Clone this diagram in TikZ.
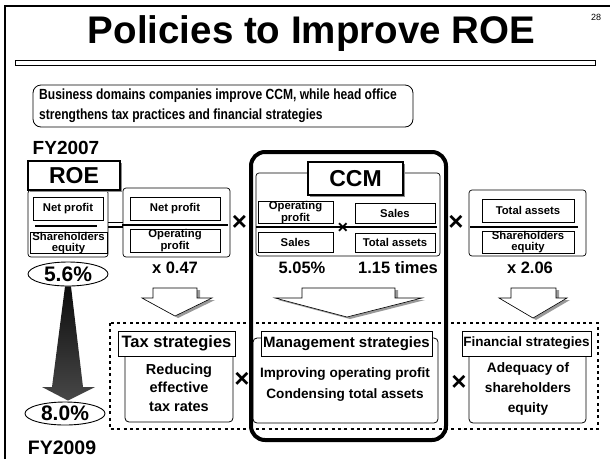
\documentclass[tikz,border=0pt]{standalone}
\usepackage{fontspec}
\setmainfont{Liberation Sans}
\newfontfamily\narrowsans[FakeStretch=0.82]{Liberation Sans}
\usetikzlibrary{positioning,calc,shapes.geometric,shadows}

\newcommand{\fsz}[2]{\fontsize{#1}{#2}\selectfont\bfseries}

\tikzset{
  panel/.style={draw, line width=0.7pt, rounded corners=3pt, fill=white, inner sep=0pt},
  term/.style={draw, line width=0.8pt, fill=white, inner sep=0pt, align=center, font=\fsz{11.3}{10.5}},
  headbox/.style={draw, line width=1.2pt, fill=white, inner sep=0pt,
    drop shadow={shadow xshift=2pt, shadow yshift=-2pt, fill=black!45, opacity=1}},
  strat/.style={draw, line width=0.8pt, fill=white, inner sep=0pt},
  fracline/.style={line width=1.8pt},
  times/.style={inner sep=0pt, font=\fsz{26}{26}},
  value/.style={inner sep=0pt, font=\fsz{16.5}{16.5}},
  pct/.style={draw, ellipse, line width=0.9pt, fill=white, inner sep=0pt, font=\fsz{21}{21}},
  hollow/.style={draw, line width=0.6pt, fill=white},
  hshadow/.style={fill=black!40},
}

\begin{document}
\begin{tikzpicture}[x=1pt, y=-1pt]
\useasboundingbox (0,0) rectangle (610,459);

% frame and title
\draw[line width=2pt] (5,459) -- (5,6) -- (610,6);
\node[inner sep=0pt, font=\fsz{9}{9}\mdseries] (page) at (596,17) {28};
\node[anchor=base, inner sep=0pt, font=\fsz{38.5}{38.5}] (title) at (311.5,43) {Policies to Improve ROE};
\draw[line width=0.8pt] (15,60) rectangle (595,65);

\draw[line width=0.8pt, rounded corners=8pt] (33,85) rectangle (413,127);
\node[anchor=west, align=left, inner sep=0pt, font=\narrowsans\fsz{14.7}{20}] (intro) at (39,106)
  {Business domains companies improve CCM, while head office\\strengthens tax practices and financial strategies};

% ROE
\node[inner sep=0pt, font=\fsz{19}{19}] (fy07) at (66,148) {FY2007};
\node[panel, minimum width=80, minimum height=67] (roebody) at (68,223.5) {};
\node[headbox, minimum width=92, minimum height=29, font=\fsz{23}{23}] (roe) at (74,175.5) {ROE};
\node[term, minimum width=70, minimum height=23] (np1) at (68,208.5) {Net profit};
\node[term, minimum width=77, minimum height=21] (se1) at (68.5,243) {Shareholders\\equity};
\draw[fracline] (35,226) -- (97,226);

% equals
\draw[line width=1.2pt] (108,222.5) -- (123,222.5);
\draw[line width=1.2pt] (108,227) -- (123,227);

% net profit / operating profit
\node[panel, minimum width=107, minimum height=69] (tax) at (176.5,222.5) {};
\node[term, minimum width=90, minimum height=23] (np2) at (175,208.5) {Net profit};
\node[term, minimum width=90, minimum height=23] (op2) at (175,240.5) {Operating\\profit};
\draw[fracline] (122,225) -- (228,225);
\node[times] (x1) at (239.5,223) {×};
\node[value] (v1) at (175,267.5) {x 0.47};

% CCM
\node[panel, minimum width=184, minimum height=83] (ccmbody) at (348,214.5) {};
\node[headbox, minimum width=95, minimum height=33, font=\fsz{23}{23}] (ccm) at (355.5,178.5) {CCM};
\node[term, minimum width=75, minimum height=21] (op3) at (295.5,212.5) {Operating\\profit};
\node[term, minimum width=80, minimum height=20] (sl3) at (395,213) {Sales};
\node[term, minimum width=75, minimum height=20] (sl3b) at (295.5,242) {Sales};
\node[term, minimum width=80, minimum height=19] (ta3) at (395,242.5) {Total assets};
\draw[fracline] (256,227) -- (437,227);
\node[times, font=\fsz{18}{18}] (x2) at (343,228) {×};
\node[value] (v2) at (302,267.5) {5.05\%};
\node[value] (v3) at (398,267.5) {1.15 times};
\node[times] (x3) at (456,223) {×};

% total assets / equity
\node[panel, minimum width=117, minimum height=66] (fin) at (527.5,223) {};
\node[term, minimum width=92, minimum height=23] (ta4) at (528,210.5) {Total assets};
\node[term, minimum width=92, minimum height=22] (se4) at (528,242) {Shareholders\\equity};
\draw[fracline] (470,227) -- (578,227);
\node[value] (v4) at (530,267.5) {x 2.06};

% hollow arrows
\foreach \l/\r/\hl/\hr/\tx/\ty in {153/197/142/212/175/316, 302/395/275/422/347/317, 511/556/499/567/533/318}{
  \fill[hshadow, shift={(3,2)}] (\l,288) -- (\r,288) -- (\r,298) -- (\hr,298) -- (\tx,\ty) -- (\hl,298) -- (\l,298) -- cycle;
  \draw[hollow] (\l,288) -- (\r,288) -- (\r,298) -- (\hr,298) -- (\tx,\ty) -- (\hl,298) -- (\l,298) -- cycle;
}

% strategies
\draw[line width=2.6pt, dash pattern=on 3pt off 3.3pt] (110,323) rectangle (598,429);

\node[strat, rounded corners=4pt, minimum width=108, minimum height=72] (taxbody) at (179,386) {};
\node[strat, minimum width=117, minimum height=25, font=\fsz{16.5}{16.5}] (taxhead) at (176.5,343.5) {Tax strategies};
\node[align=center, inner sep=0pt, font=\fsz{14.5}{18.5}] (taxtext) at (179,387.5) {Reducing\\effective\\tax rates};
\node[times] (x4) at (242,380) {×};

\node[strat, rounded corners=4pt, minimum width=185, minimum height=85] (mgtbody) at (345.5,380.5) {};
\node[strat, minimum width=171, minimum height=25, font=\fsz{15}{15}] (mgthead) at (346.5,343.5) {Management strategies};
\node[align=center, inner sep=0pt, font=\fsz{13.6}{21}] (mgttext) at (345,384.5) {Improving operating profit\\Condensing total assets};
\node[times] (x5) at (459,383) {×};

\node[strat, rounded corners=4pt, minimum width=117, minimum height=73] (finbody) at (527.5,386.5) {};
\node[strat, minimum width=129, minimum height=25, font=\fsz{13.5}{13.5}] (finhead) at (526.5,343.5) {Financial strategies};
\node[align=center, inner sep=0pt, font=\fsz{13.7}{20}] (fintext) at (528,389) {Adequacy of\\shareholders\\equity};

\draw[line width=4pt, rounded corners=14pt] (251,152) rectangle (446,440);

% ROE growth
\node[pct, minimum width=80, minimum height=24] (roe07) at (68,274) {5.6\%};
\node[pct, minimum width=80, minimum height=23] (roe09) at (65,413.5) {8.0\%};
\shade[top color=black!95, bottom color=black!72]
  ($(roe07.south)+(-3,0)$) -- ($(roe07.south)+(3,0)$) -- (83,387) -- (95,387)
  -- ($(roe09.north)+(3,-1)$) -- (42,387) -- (52,387) -- cycle;
\node[inner sep=0pt, font=\fsz{19.5}{19.5}] (fy09) at (62,448) {FY2009};
\end{tikzpicture}
\end{document}
